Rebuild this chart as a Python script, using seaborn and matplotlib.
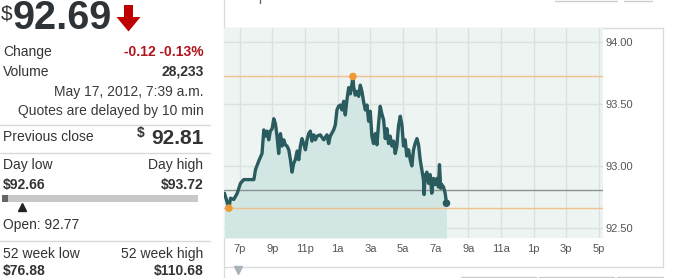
import matplotlib
matplotlib.use("Agg")
import matplotlib.pyplot as plt
import seaborn as sns
import pandas as pd
from matplotlib.patches import Polygon

# ---------------- data ----------------
hours = [18.06, 18.33, 18.43, 18.63, 18.84, 19.04, 19.24, 19.86, 19.96, 20.16,
         20.36, 20.47, 20.57, 20.67, 20.77, 20.87, 20.98, 21.08, 21.18, 21.28,
         21.38, 21.49, 21.59, 21.69, 21.79, 21.89, 22.00, 22.10, 22.20, 22.30,
         22.40, 22.51, 22.61, 22.71, 22.81, 22.91, 23.02, 23.12, 23.22, 23.32,
         23.42, 23.53, 23.63, 23.73, 23.93, 24.14, 24.34, 24.44, 24.54, 24.75,
         24.85, 24.95, 25.05, 25.16, 25.26, 25.36, 25.46, 25.56, 25.67, 25.77,
         25.87, 25.93, 25.97, 26.07, 26.18, 26.28, 26.38, 26.48, 26.58, 26.69,
         26.79, 26.89, 26.99, 27.09, 27.19, 27.30, 27.40, 27.50, 27.60, 27.70,
         27.81, 27.91, 28.01, 28.11, 28.21, 28.32, 28.42, 28.52, 28.62, 28.72,
         28.83, 28.93, 29.03, 29.13, 29.23, 29.34, 29.44, 29.54, 29.64, 29.74,
         29.85, 29.95, 30.05, 30.15, 30.25, 30.29, 30.35, 30.46, 30.56, 30.66,
         30.76, 30.86, 30.97, 31.07, 31.17, 31.23, 31.31, 31.37, 31.48, 31.58, 31.66]
prices = [92.78, 92.66, 92.74, 92.73, 92.78, 92.86, 92.89, 92.89, 92.97, 93.04,
          93.10, 93.29, 93.24, 93.28, 93.21, 93.28, 93.30, 93.38, 93.34, 93.24,
          93.10, 93.26, 93.16, 93.21, 93.17, 93.16, 93.13, 93.05, 92.95, 93.02,
          93.05, 93.12, 93.05, 93.16, 93.22, 93.18, 93.13, 93.21, 93.26, 93.28,
          93.20, 93.25, 93.21, 93.24, 93.25, 93.21, 93.25, 93.18, 93.24, 93.29,
          93.33, 93.45, 93.48, 93.49, 93.45, 93.52, 93.41, 93.53, 93.63, 93.58,
          93.66, 93.72, 93.64, 93.57, 93.60, 93.56, 93.65, 93.60, 93.52, 93.45,
          93.49, 93.36, 93.44, 93.24, 93.18, 93.26, 93.17, 93.34, 93.48, 93.42,
          93.37, 93.22, 93.30, 93.18, 93.24, 93.16, 93.20, 93.10, 93.16, 93.32,
          93.40, 93.33, 93.16, 93.21, 93.08, 93.13, 93.05, 93.00, 93.13, 93.18,
          93.22, 93.17, 93.05, 92.97, 92.89, 92.77, 92.92, 92.95, 92.86, 92.93,
          92.78, 92.90, 92.85, 92.90, 92.83, 93.01, 92.82, 92.85, 92.83, 92.78, 92.70]

tick_hours = [19, 21, 23, 25, 27, 29, 31, 33, 35, 37, 39, 41]
tick_labels = ["7p", "9p", "11p", "1a", "3a", "5a", "7a", "9a", "11a", "1p", "3p", "5p"]
price_ticks = [92.50, 93.00, 93.50, 94.00]

last_price = "92.69"
change_text = "-0.12 -0.13%"
volume_text = "28,233"
date_text = "May 17, 2012, 7:39 a.m."
delay_text = "Quotes are delayed by 10 min"
prev_close = 92.81
day_low = 92.66
day_high = 93.72
open_price = 92.77
wk52_low = "$76.88"
wk52_high = "$110.68"

df = pd.DataFrame({"hour": hours, "price": prices})

# ---------------- figure ----------------
sns.set_theme(style="white")
plt.rcParams['font.family'] = ['Liberation Sans', 'DejaVu Sans']

W, H = 675, 278
fig = plt.figure(figsize=(6.75, 2.78), dpi=100)
fig.patch.set_facecolor("white")

bg = fig.add_axes([0, 0, 1, 1])
bg.set_xlim(0, W)
bg.set_ylim(H, 0)
bg.axis("off")


def T(x, y, s, size=10, ha="left", weight="normal", color="#333333", va="center"):
    bg.text(x, y, s, fontsize=size, ha=ha, va=va, fontweight=weight, color=color)


# left panel
T(1, 14, "$", size=15, color="#333333")
T(13, 18, last_price, size=28.5, weight="bold", color="#2e3338")
bg.add_patch(Polygon([(124, 5), (133, 5), (133, 17), (140.5, 17), (128.5, 31.5),
                      (116.5, 17), (124, 17)], closed=True, color="#c00000", lw=0))

R = 203.5
T(3, 52, "Change")
T(R, 52, change_text, ha="right", weight="bold", color="#b0141c")
T(3, 72, "Volume")
T(R, 72, volume_text, ha="right", weight="bold")
T(R, 92, date_text, ha="right", color="#3a3a3a")
T(R, 111.5, delay_text, ha="right", color="#3a3a3a")
sep_col = "#d5dadd"
for yy in (124.5, 152.5, 240.5):
    bg.plot([0, 210], [yy, yy], color=sep_col, lw=1)
T(3, 137, "Previous close")
T(R, 138, f"{prev_close:.2f}", ha="right", weight="bold", size=15)
T(137, 133, "$", size=10, weight="bold")
T(3, 165, "Day low")
T(R, 165, "Day high", ha="right")
T(3, 185, f"${day_low:.2f}", weight="bold")
T(R, 185, f"${day_high:.2f}", ha="right", weight="bold")
bg.fill_between([2, 198], [195, 195], [202, 202], color="#c8c8c8", lw=0)
bg.fill_between([2, 8], [195, 195], [202, 202], color="#666666", lw=0)
bg.plot([21.7], [206.5], marker="^", ms=6, color="#222222", lw=0)
T(3, 225, f"Open: {open_price:.2f}")
T(3, 254, "52 week low")
T(R, 254, "52 week high", ha="right")
T(3, 271, wk52_low, weight="bold")
T(R, 271, wk52_high, ha="right", weight="bold")

# chart frame
frame_col = "#d9dcdc"
bg.plot([223.5, 223.5], [0, H], color=frame_col, lw=1)
bg.plot([223.5, 663], [28, 28], color=frame_col, lw=1)
bg.plot([663, 663], [28, 267], color=frame_col, lw=1)
bg.plot([223.5, 663], [267, 267], color=frame_col, lw=1)
# partial controls at top and bottom
bg.plot([555, 617], [0.5, 0.5], color="#cccccc", lw=1)
bg.plot([624, 652], [0.5, 0.5], color="#cccccc", lw=1)
for x0, x1 in ((461, 536), (539, 614), (617, 663)):
    bg.plot([x0, x0, x1, x1], [H, 276.5, 276.5, H], color="#cccccc", lw=1)
bg.plot([238], [270], marker="v", ms=6, color="#a9b3bc", lw=0)
# descender of a clipped label above the chart
bg.plot([260, 260], [0, 3], color="#666666", lw=1)

# main chart
ax = fig.add_axes([223.5 / W, 1 - 238 / H, (603 - 223.5) / W, (238 - 28) / H])
ax.set_facecolor("#eef4f1")
ax.set_xlim(18.0, 41.25)
ax.set_ylim(92.42, 94.11)
ax.grid(True, color="#d8e2de", lw=1)
ax.set_axisbelow(True)
for s in ax.spines.values():
    s.set_visible(False)

ax.fill_between(df["hour"], df["price"], 92.42, color="#d2e7e3", lw=0, zorder=2)
ax.axhline(day_high, color="#f0c08e", lw=1, zorder=3)
ax.axhline(day_low, color="#f0c08e", lw=1, zorder=3)
ax.axhline(prev_close, color="#8c9393", lw=1, zorder=3)
sns.lineplot(data=df, x="hour", y="price", ax=ax, color="#2a5b5e", lw=2.4,
             estimator=None, zorder=5)

lo = df.loc[[df["price"].idxmin()]]
hi = df.loc[[df["price"].idxmax()]]
last = df.iloc[[-1]]
sns.scatterplot(data=pd.concat([lo, hi]), x="hour", y="price", ax=ax, color="#ef9a36",
                s=30, edgecolor="none", zorder=6)
sns.scatterplot(data=last, x="hour", y="price", ax=ax, color="#2a5b5e",
                s=30, edgecolor="none", zorder=6)

ax.set_xticks(tick_hours)
ax.set_xticklabels(tick_labels)
ax.set_yticks(price_ticks)
ax.set_yticklabels([f"{v:.2f}" for v in price_ticks])
ax.yaxis.tick_right()
ax.tick_params(axis="both", length=0, labelsize=8, colors="#555555")
ax.tick_params(axis="x", pad=4.5)
ax.tick_params(axis="y", pad=1.5)
ax.set_xlabel("")
ax.set_ylabel("")

fig.savefig("out.png", dpi=100, facecolor="white")
